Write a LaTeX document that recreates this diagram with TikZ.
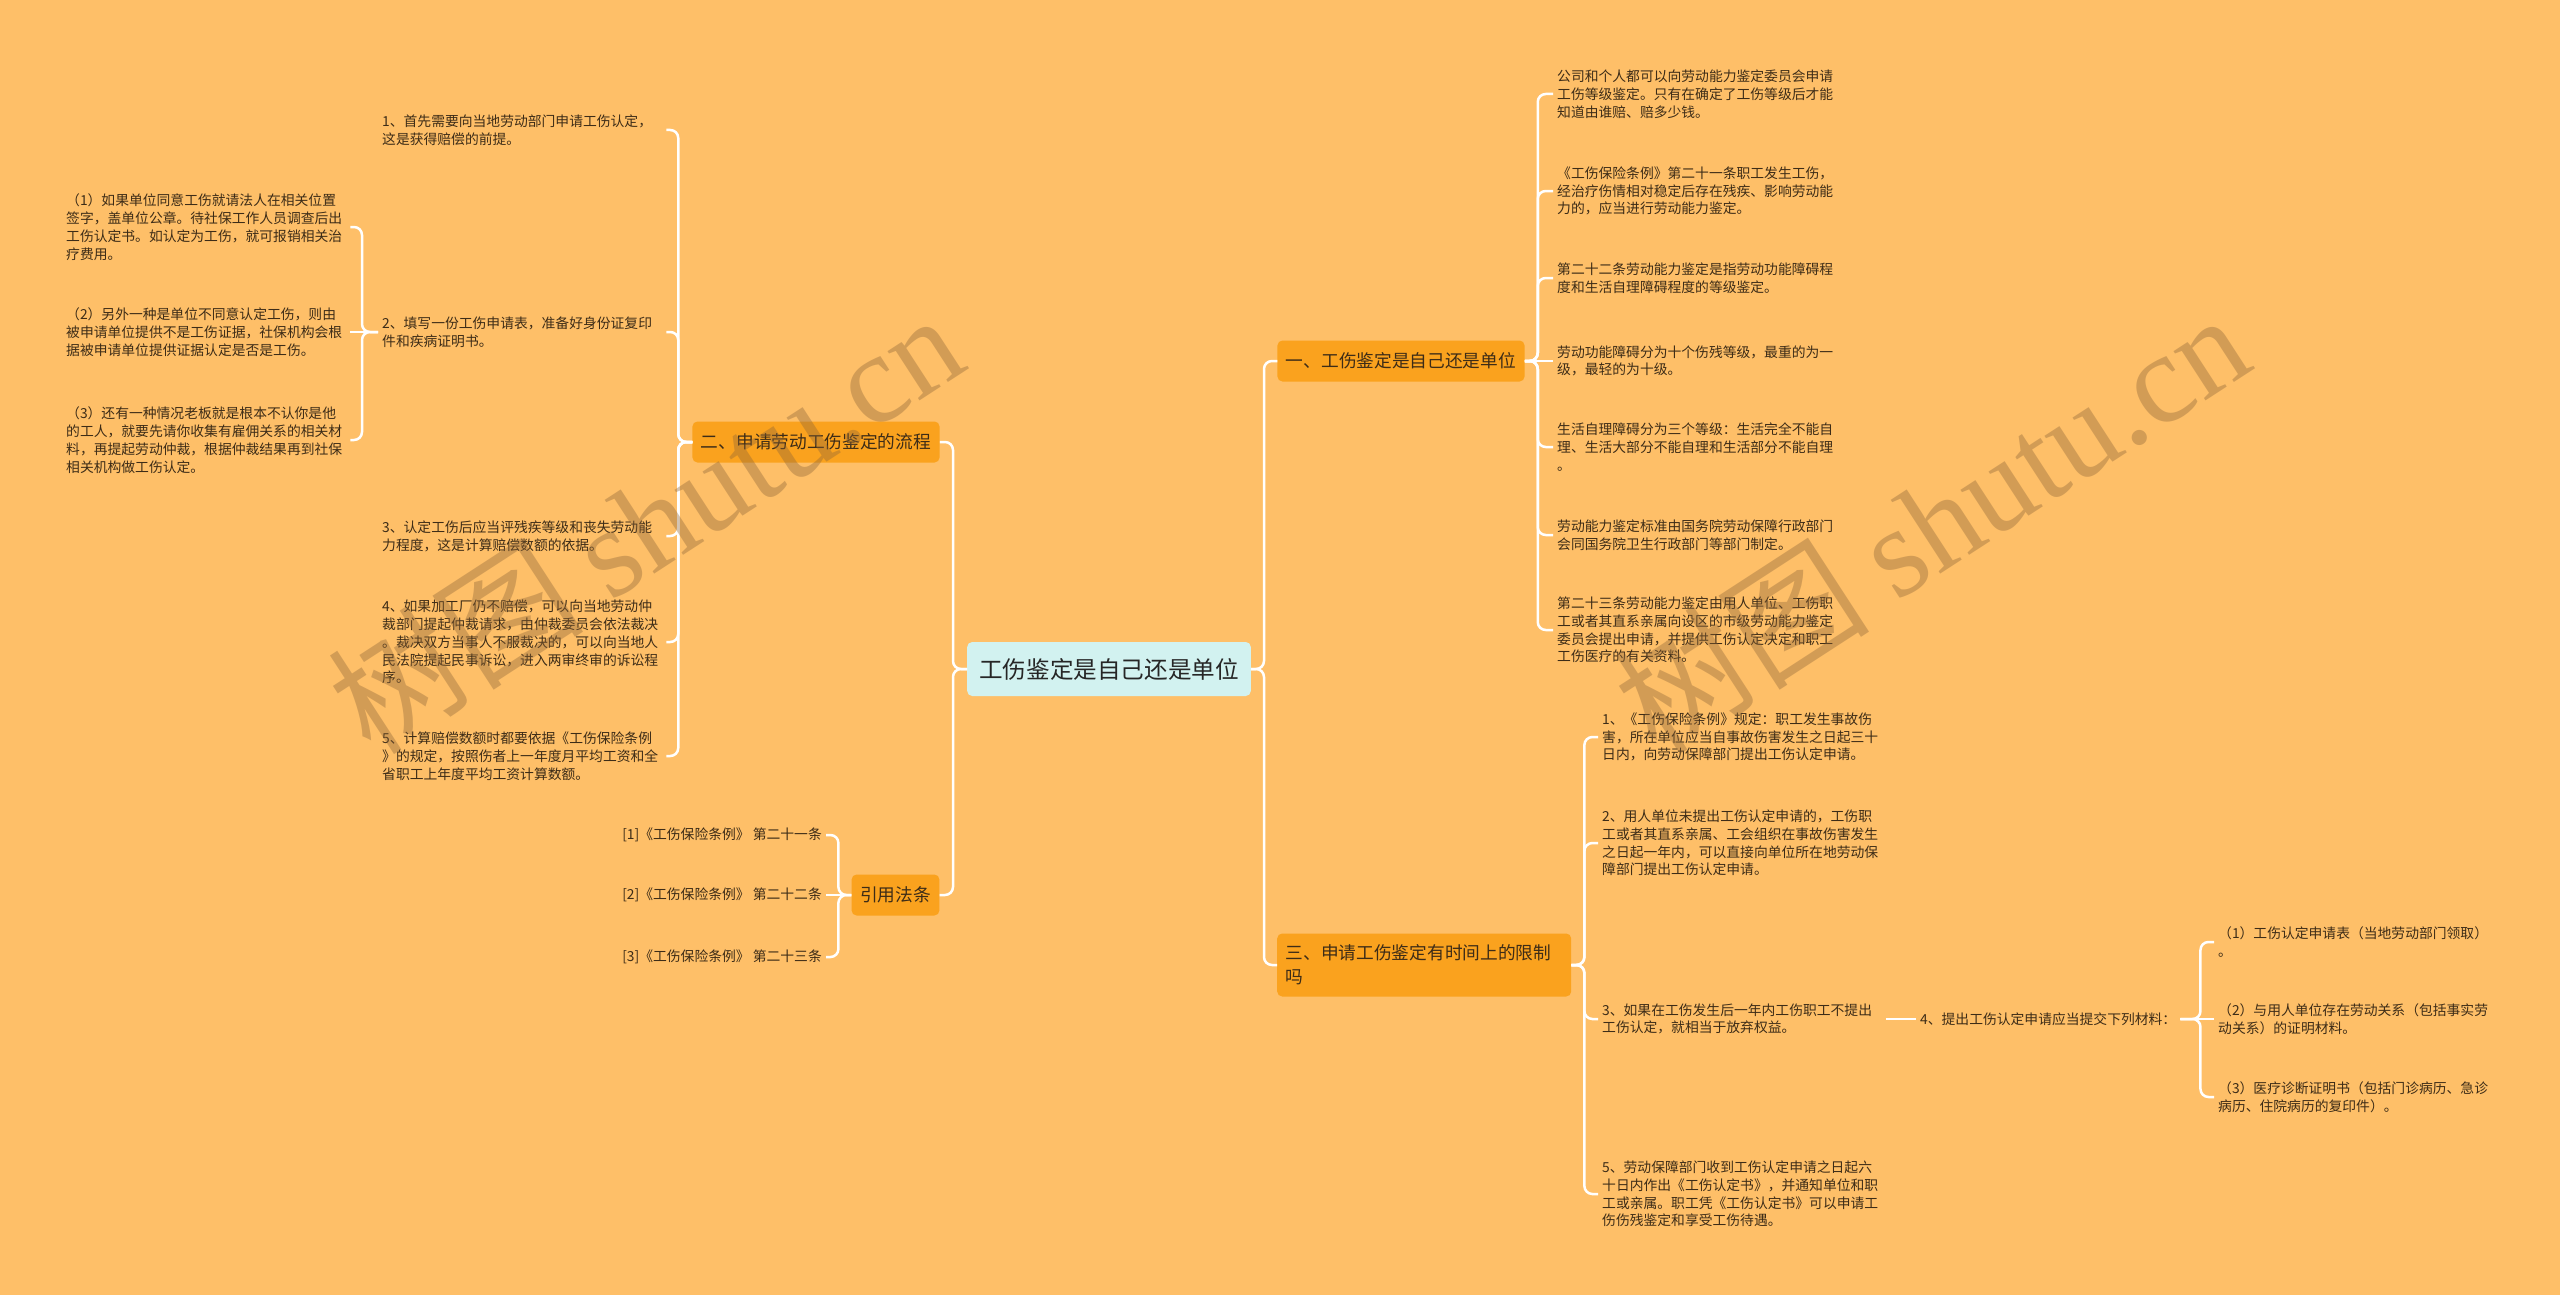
\documentclass[tikz,border=0pt]{standalone}
\usepackage{fontspec}
\setmainfont{Noto Sans CJK SC}
\newfontfamily\markserif{Liberation Serif}
\definecolor{bgorange}{HTML}{FEBF68}
\definecolor{boxorange}{HTML}{FAA21E}
\definecolor{hubcyan}{HTML}{D2F2F0}
\definecolor{leaftext}{HTML}{3D2C17}
\definecolor{marktext}{HTML}{8C6438}

\begin{document}
\begin{tikzpicture}[x=1pt,y=-1pt,
  hub/.style={rectangle,rounded corners=5pt,fill=hubcyan,text=black!85,font=\fontsize{23.6}{28}\selectfont,inner xsep=12pt,minimum height=54pt},
  branch/.style={rectangle,rounded corners=5pt,fill=boxorange,text=leaftext,font=\fontsize{17.7}{24}\selectfont,inner xsep=8.5pt,minimum height=41pt},
  leaf/.style={inner sep=4pt,align=left,text=leaftext,font=\fontsize{13.8}{17.8}\selectfont},
  wide/.style={leaf,text width=280pt},
  link/.style={draw=white,line width=2.5pt,rounded corners=8pt},
  watermark/.style={rotate=33,text=marktext,opacity=0.38,font=\fontsize{128}{128}\selectfont}]
  \fill[bgorange] (0,0) rectangle (2560,1295);
  \useasboundingbox (0,0) rectangle (2560,1295);

  \node[hub] (hub) at (1109,669) {工伤鉴定是自己还是单位};
  \node[branch] (b1) at (1401,361) {一、工伤鉴定是自己还是单位};
  \node[branch] (b2) at (816,442) {二、申请劳动工伤鉴定的流程};
  \node[branch] (lawref) at (895.5,895) {引用法条};
  \node[branch,anchor=west,text width=277pt,align=left,minimum height=63pt] (b3) at (1277,965) {三、申请工伤鉴定有时间上的限制\\吗};

  \node[wide,anchor=west] (L1) at (378,130) {1、首先需要向当地劳动部门申请工伤认定，\\这是获得赔偿的前提。};
  \node[wide,anchor=west] (L2) at (378,332) {2、填写一份工伤申请表，准备好身份证复印\\件和疾病证明书。};
  \node[wide,anchor=west] (L3) at (378,536) {3、认定工伤后应当评残疾等级和丧失劳动能\\力程度，这是计算赔偿数额的依据。};
  \node[wide,anchor=west] (L4) at (378,642) {4、如果加工厂仍不赔偿，可以向当地劳动仲\\裁部门提起仲裁请求，由仲裁委员会依法裁决\\。裁决双方当事人不服裁决的，可以向当地人\\民法院提起民事诉讼，进入两审终审的诉讼程\\序。};
  \node[wide,anchor=west] (L5) at (378,756) {5、计算赔偿数额时都要依据《工伤保险条例\\》的规定，按照伤者上一年度月平均工资和全\\省职工上年度平均工资计算数额。};

  \node[wide,anchor=west] (S1) at (62,227) {（1）如果单位同意工伤就请法人在相关位置\\签字，盖单位公章。待社保工作人员调查后出\\工伤认定书。如认定为工伤，就可报销相关治\\疗费用。};
  \node[wide,anchor=west] (S2) at (62,332) {（2）另外一种是单位不同意认定工伤，则由\\被申请单位提供不是工伤证据，社保机构会根\\据被申请单位提供证据认定是否是工伤。};
  \node[wide,anchor=west] (S3) at (62,440) {（3）还有一种情况老板就是根本不认你是他\\的工人，就要先请你收集有雇佣关系的相关材\\料，再提起劳动仲裁，根据仲裁结果再到社保\\相关机构做工伤认定。};

  \node[leaf,anchor=east] (R1) at (826,835) {[1]《工伤保险条例》 第二十一条};
  \node[leaf,anchor=east] (R2) at (826,895) {[2]《工伤保险条例》 第二十二条};
  \node[leaf,anchor=east] (R3) at (826,957) {[3]《工伤保险条例》 第二十三条};

  \node[wide,anchor=west] (A1) at (1553,94) {公司和个人都可以向劳动能力鉴定委员会申请\\工伤等级鉴定。只有在确定了工伤等级后才能\\知道由谁赔、赔多少钱。};
  \node[wide,anchor=west] (A2) at (1553,191) {《工伤保险条例》第二十一条职工发生工伤，\\经治疗伤情相对稳定后存在残疾、影响劳动能\\力的，应当进行劳动能力鉴定。};
  \node[wide,anchor=west] (A3) at (1553,278) {第二十二条劳动能力鉴定是指劳动功能障碍程\\度和生活自理障碍程度的等级鉴定。};
  \node[wide,anchor=west] (A4) at (1553,361) {劳动功能障碍分为十个伤残等级，最重的为一\\级，最轻的为十级。};
  \node[wide,anchor=west] (A5) at (1553,447) {生活自理障碍分为三个等级：生活完全不能自\\理、生活大部分不能自理和生活部分不能自理\\。};
  \node[wide,anchor=west] (A6) at (1553,535) {劳动能力鉴定标准由国务院劳动保障行政部门\\会同国务院卫生行政部门等部门制定。};
  \node[wide,anchor=west] (A7) at (1553,630) {第二十三条劳动能力鉴定由用人单位、工伤职\\工或者其直系亲属向设区的市级劳动能力鉴定\\委员会提出申请，并提供工伤认定决定和职工\\工伤医疗的有关资料。};

  \node[wide,anchor=west] (B1) at (1598,737) {1、《工伤保险条例》规定：职工发生事故伤\\害，所在单位应当自事故伤害发生之日起三十\\日内，向劳动保障部门提出工伤认定申请。};
  \node[wide,anchor=west] (B2) at (1598,843) {2、用人单位未提出工伤认定申请的，工伤职\\工或者其直系亲属、工会组织在事故伤害发生\\之日起一年内，可以直接向单位所在地劳动保\\障部门提出工伤认定申请。};
  \node[wide,anchor=west] (B3) at (1598,1019) {3、如果在工伤发生后一年内工伤职工不提出\\工伤认定，就相当于放弃权益。};
  \node[wide,anchor=west] (B5) at (1598,1194) {5、劳动保障部门收到工伤认定申请之日起六\\十日内作出《工伤认定书》，并通知单位和职\\工或亲属。职工凭《工伤认定书》可以申请工\\伤伤残鉴定和享受工伤待遇。};
  \node[leaf,anchor=west] (B4) at (1916,1019) {4、提出工伤认定申请应当提交下列材料：};

  \node[wide,anchor=west] (C1) at (2214,942) {（1）工伤认定申请表（当地劳动部门领取）\\。};
  \node[wide,anchor=west] (C2) at (2214,1019) {（2）与用人单位存在劳动关系（包括事实劳\\动关系）的证明材料。};
  \node[wide,anchor=west] (C3) at (2214,1097) {（3）医疗诊断证明书（包括门诊病历、急诊\\病历、住院病历的复印件）。};

  \draw[link] (hub.west) -- ++(-14,0) |- (b2.east);
  \draw[link] (hub.west) -- ++(-14,0) |- (lawref.east);
  \draw[link] (hub.east) -- ++(13,0) |- (b1.west);
  \draw[link] (hub.east) -- ++(13,0) |- (b3.west);

  \foreach \k in {L1,L2,L3,L4,L5}
    \draw[link] (b2.west) -- ++(-14,0) |- (\k.east);
  \foreach \k in {S1,S3}
    \draw[link] (L2.west) -- ++(-16,0) |- (\k.east);
  \draw[link] (L2.west) -- (S2.east);
  \foreach \k in {R1,R3}
    \draw[link] (lawref.west) -- ++(-13,0) |- (\k.east);
  \draw[link] (lawref.west) -- (R2.east);
  \foreach \k in {A1,A2,A3,A5,A6,A7}
    \draw[link] (b1.east) -- ++(13,0) |- (\k.west);
  \draw[link] (b1.east) -- (A4.west);
  \foreach \k in {B1,B2,B3,B5}
    \draw[link] (b3.east) -- ++(13,0) |- (\k.west);
  \draw[link] (B3.east) -- (B4.west);
  \foreach \k in {C1,C3}
    \draw[link] (B4.east) -- ++(20,0) |- (\k.west);
  \draw[link] (B4.east) -- (C2.west);

  \node[watermark] (markL) at (645,522) {树图 {\markserif shutu.cn}};
  \node[watermark] (markR) at (1931,522) {树图 {\markserif shutu.cn}};
\end{tikzpicture}
\end{document}
